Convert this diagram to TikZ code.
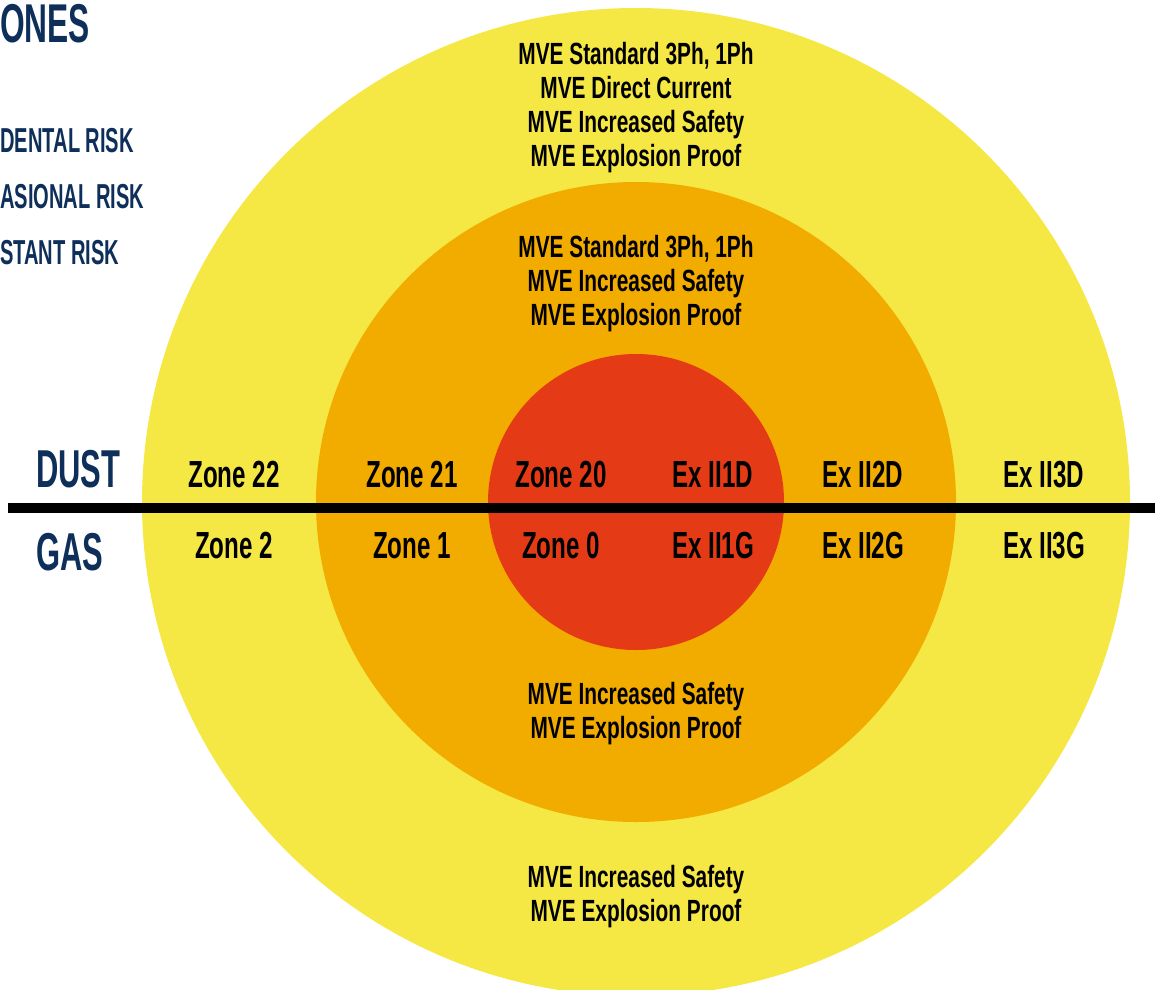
\documentclass[tikz,border=0pt]{standalone}
\usepackage{fontspec}
\newfontfamily\dinfont[FakeStretch=0.64]{Liberation Sans}
\newfontfamily\mvefont[FakeStretch=0.68]{Liberation Sans}
\newfontfamily\navyfont[FakeStretch=0.58]{Liberation Sans}
\definecolor{zoneyellow}{RGB}{246,232,68}
\definecolor{zoneorange}{RGB}{242,172,0}
\definecolor{zonered}{RGB}{229,58,22}
\definecolor{zonenavy}{RGB}{14,47,90}
\tikzset{
  zonelabel/.style={anchor=base, inner sep=0pt, font={\dinfont\bfseries\fontsize{28.3}{30}\selectfont}},
  mvelist/.style={align=center, inner sep=0pt, font={\mvefont\bfseries\fontsize{23}{25.5}\selectfont}},
  sidelabel/.style={anchor=base west, inner sep=0pt, text=zonenavy, font={\navyfont\bfseries\fontsize{26}{28}\selectfont}},
  medialabel/.style={anchor=base west, inner sep=0pt, text=zonenavy, font={\navyfont\bfseries\fontsize{40}{42}\selectfont}}
}
\begin{document}
\begin{tikzpicture}[x=0.75pt,y=0.75pt,yscale=-1]
\path[use as bounding box] (0,0) rectangle (1160,989);

%Shape: Circle [zone 2 / 22]
\fill[zoneyellow] (636,502) circle (494);
%Shape: Circle [zone 1 / 21]
\fill[zoneorange] (636,502) circle (320);
%Shape: Circle [zone 0 / 20]
\fill[zonered] (636,502) circle (148);

%Straight Lines [dust / gas divider]
\coordinate (dividerL) at (8,508);
\coordinate (dividerR) at (1155,508);
\draw[line width=7.5pt] (dividerL) -- (dividerR);

% Text Node
\node[medialabel, font={\navyfont\bfseries\fontsize{41}{43}\selectfont}] (zonesTitle) at (0,42) {ONES};
% Text Node
\node[sidelabel] (riskOne) at (0,152) {DENTAL RISK};
% Text Node
\node[sidelabel] (riskTwo) at (0,208) {ASIONAL RISK};
% Text Node
\node[sidelabel] (riskThree) at (0,264) {STANT RISK};

% Text Node
\node[medialabel] (dust) at (36,487) {DUST};
% Text Node
\node[medialabel] (gas) at (36,570) {GAS};

% Text Node
\node[zonelabel] (zoneTwentyTwo) at (234,487) {Zone 22};
% Text Node
\node[zonelabel] (zoneTwentyOne) at (412,487) {Zone 21};
% Text Node
\node[zonelabel] (zoneTwenty) at (561,487) {Zone 20};
% Text Node
\node[zonelabel] (exOneD) at (713,487) {Ex II1D};
% Text Node
\node[zonelabel] (exTwoD) at (863,487) {Ex II2D};
% Text Node
\node[zonelabel] (exThreeD) at (1044,487) {Ex II3D};

% Text Node
\node[zonelabel] (zoneTwo) at (234,558) {Zone 2};
% Text Node
\node[zonelabel] (zoneOne) at (412,558) {Zone 1};
% Text Node
\node[zonelabel] (zoneZero) at (561,558) {Zone 0};
% Text Node
\node[zonelabel] (exOneG) at (713,558) {Ex II1G};
% Text Node
\node[zonelabel] (exTwoG) at (863,558) {Ex II2G};
% Text Node
\node[zonelabel] (exThreeG) at (1044,558) {Ex II3G};

% Text Node
\node[mvelist] (outerTop) at (636,108) {MVE Standard 3Ph, 1Ph\\MVE Direct Current\\MVE Increased Safety\\MVE Explosion Proof};
% Text Node
\node[mvelist] (innerTop) at (636,284) {MVE Standard 3Ph, 1Ph\\MVE Increased Safety\\MVE Explosion Proof};
% Text Node
\node[mvelist] (innerBottom) at (636,714) {MVE Increased Safety\\MVE Explosion Proof};
% Text Node
\node[mvelist] (outerBottom) at (636,897) {MVE Increased Safety\\MVE Explosion Proof};

\end{tikzpicture}
\end{document}
